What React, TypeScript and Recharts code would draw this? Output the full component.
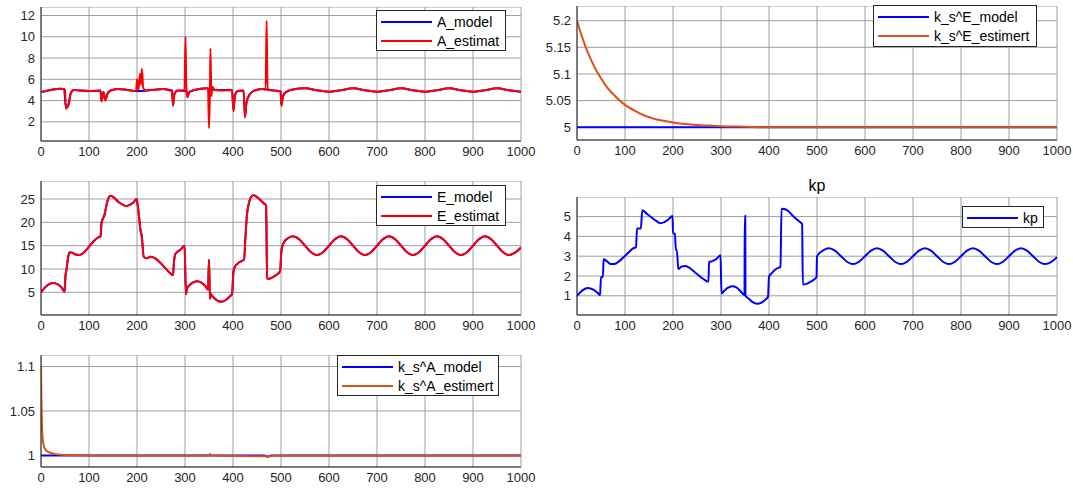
import React from 'react';
import { LineChart, Line, XAxis, YAxis, CartesianGrid, Legend } from 'recharts';

type Pt = [number, number];

const timeTicks = [0, 100, 200, 300, 400, 500, 600, 700, 800, 900, 1000];

// A_model / A_estimat
const aModel: Pt[] = [
  [0, 4.8], [10, 4.9], [25, 5.05], [40, 5.12], [48, 5.1], [52, 3.3], [57, 3.6], [62, 4.7], [68, 5.0],
  [80, 4.95], [100, 4.9], [124, 4.95], [126, 4.0], [130, 4.8], [134, 4.1], [138, 4.6], [145, 4.95],
  [160, 5.1], [180, 5.0], [200, 4.9], [220, 4.95], [255, 5.1], [273, 4.95], [275, 3.6], [278, 4.6],
  [285, 4.95], [303, 4.9], [305, 4.4], [309, 4.8], [320, 5.0], [345, 5.15], [362, 5.0], [398, 5.0],
  [401, 3.1], [404, 4.5], [410, 4.9], [422, 4.95], [425, 2.5], [428, 3.8], [435, 4.6], [445, 4.95],
  [460, 5.1], [485, 4.95], [499, 4.9], [501, 3.6], [504, 4.4], [510, 4.8], [525, 5.05],
  [550, 5.15], [575, 4.98], [600, 4.82], [625, 4.98], [650, 5.15], [675, 4.98], [700, 4.82],
  [725, 4.98], [750, 5.15], [775, 4.98], [800, 4.82], [825, 4.98], [850, 5.15], [875, 4.98],
  [900, 4.82], [925, 4.98], [950, 5.15], [975, 4.98], [1000, 4.82],
];
const aEstimat: Pt[] = [
  [0, 4.8], [10, 4.9], [25, 5.05], [40, 5.12], [48, 5.1], [50, 5.0], [52, 3.2], [55, 3.6], [57, 3.5],
  [62, 4.7], [68, 5.0], [80, 4.95], [100, 4.9], [120, 4.92], [124, 4.95], [126, 3.9], [130, 4.8],
  [134, 4.0], [138, 4.6], [145, 4.95], [160, 5.1], [180, 5.0], [198, 4.9], [200, 6.0], [203, 5.0],
  [206, 6.5], [208, 5.5], [210, 7.0], [213, 5.2], [218, 4.95], [235, 5.0], [255, 5.1], [270, 4.95],
  [273, 4.95], [275, 3.5], [278, 4.6], [285, 4.95], [299, 4.95], [301, 10.0], [303, 4.9], [305, 4.3],
  [309, 4.8], [320, 5.0], [345, 5.15], [348, 5.1], [350, 1.4], [352, 5.0], [353, 8.9], [355, 4.4],
  [357, 5.3], [362, 5.0], [380, 4.95], [398, 5.0], [401, 3.0], [404, 4.5], [410, 4.9], [422, 4.95],
  [425, 2.4], [428, 3.8], [435, 4.6], [445, 4.95], [460, 5.1], [468, 5.05], [470, 11.5], [472, 5.0],
  [485, 4.95], [499, 4.9], [501, 3.5], [504, 4.4], [510, 4.8], [525, 5.05],
  [550, 5.15], [575, 4.98], [600, 4.82], [625, 4.98], [650, 5.15], [675, 4.98], [700, 4.82],
  [725, 4.98], [750, 5.15], [775, 4.98], [800, 4.82], [825, 4.98], [850, 5.15], [875, 4.98],
  [900, 4.82], [925, 4.98], [950, 5.15], [975, 4.98], [1000, 4.82],
];

// k_s^E
const ksEModel: Pt[] = [[0, 5], [1000, 5]];
const ksEEstimert: Pt[] = [
  [0, 5.2], [10, 5.171], [20, 5.146], [30, 5.125], [40, 5.107], [50, 5.092], [60, 5.078], [70, 5.067],
  [80, 5.058], [90, 5.049], [100, 5.042], [120, 5.031], [140, 5.022], [160, 5.016], [180, 5.012],
  [200, 5.009], [225, 5.006], [250, 5.004], [275, 5.003], [300, 5.002], [350, 5.001], [400, 5.0],
  [1000, 5.0],
];

// E_model / E_estimat
const eEstimat: Pt[] = [
  [0, 5.0], [8, 6.0], [16, 6.7], [25, 7.0], [35, 6.7], [43, 6.0], [49, 5.1], [51, 8.5], [53, 9.8],
  [57, 12.8], [60, 13.6], [65, 13.5], [72, 13.1], [80, 13.0], [90, 13.6], [100, 14.8], [110, 16.0],
  [118, 16.7], [124, 17.0], [126, 19.8], [129, 20.8], [132, 21.5], [137, 24.0], [141, 25.3],
  [145, 25.7], [152, 25.3], [162, 24.3], [172, 23.7], [178, 23.5], [186, 23.8], [193, 24.3],
  [199, 25.0], [201, 24.0], [204, 21.5], [207, 18.5], [210, 17.0], [214, 12.6], [220, 12.3],
  [228, 12.6], [238, 12.3], [248, 11.4], [258, 10.3], [268, 9.2], [275, 8.7], [277, 11.5],
  [280, 13.2], [286, 13.8], [292, 14.3], [299, 15.0], [302, 4.6], [304, 5.8], [310, 6.6],
  [318, 7.2], [326, 7.4], [334, 7.1], [342, 6.4], [348, 5.6], [350, 12.0], [352, 3.6], [354, 4.6],
  [356, 4.3], [362, 3.7], [370, 3.1], [376, 3.0], [384, 3.3], [392, 4.0], [398, 4.7], [401, 9.5],
  [404, 10.5], [410, 11.2], [418, 11.7], [423, 12.0], [426, 17.0], [429, 21.5], [433, 24.0],
  [438, 25.5], [443, 25.8], [450, 25.4], [458, 24.7], [465, 24.0], [469, 23.6], [471, 8.0],
  [475, 7.9], [482, 8.2], [490, 8.7], [498, 9.5], [501, 14.0], [505, 15.5], [513, 16.5],
  [525, 17.0], [537.5, 16.4], [550, 15.0], [562.5, 13.6], [575, 13.0], [587.5, 13.6], [600, 15.0],
  [612.5, 16.4], [625, 17.0], [637.5, 16.4], [650, 15.0], [662.5, 13.6], [675, 13.0], [687.5, 13.6],
  [700, 15.0], [712.5, 16.4], [725, 17.0], [737.5, 16.4], [750, 15.0], [762.5, 13.6], [775, 13.0],
  [787.5, 13.6], [800, 15.0], [812.5, 16.4], [825, 17.0], [837.5, 16.4], [850, 15.0], [862.5, 13.6],
  [875, 13.0], [887.5, 13.6], [900, 15.0], [912.5, 16.4], [925, 17.0], [937.5, 16.4], [950, 15.0],
  [962.5, 13.6], [975, 13.0], [987.5, 13.5], [1000, 14.6],
];
const eModel: Pt[] = eEstimat;

// kp
const kp: Pt[] = [
  [0, 1.0], [10, 1.25], [22, 1.4], [35, 1.3], [44, 1.12], [48, 1.03], [50, 1.95], [54, 1.95],
  [55.5, 2.85], [62, 2.75], [71, 2.6], [78, 2.6], [88, 2.75], [98, 2.97], [108, 3.2], [116, 3.38],
  [123, 3.45], [125, 4.4], [133, 4.4], [136, 5.32], [145, 5.15], [154, 4.98], [164, 4.8],
  [174, 4.67], [182, 4.72], [190, 4.85], [199, 5.03], [200, 4.15], [204, 4.15], [206, 3.3],
  [208, 3.3], [211, 2.35], [218, 2.48], [226, 2.5], [236, 2.38], [246, 2.18], [256, 1.98],
  [266, 1.8], [272, 1.72], [274, 1.72], [275, 2.7], [282, 2.75], [290, 2.85], [299, 3.05],
  [301, 1.12], [308, 1.28], [316, 1.42], [324, 1.48], [332, 1.42], [340, 1.25], [349, 1.03],
  [349.5, 5.03], [350.5, 5.03], [351, 1.0], [358, 0.85], [366, 0.68], [375, 0.6], [384, 0.65],
  [392, 0.8], [398, 0.95], [400, 1.96], [406, 2.15], [412, 2.3], [420, 2.42], [424, 2.46],
  [426, 5.4], [432, 5.38], [440, 5.28], [448, 5.08], [456, 4.9], [463, 4.75], [469, 4.62],
  [470.5, 1.57], [478, 1.6], [486, 1.7], [494, 1.82], [499, 1.96], [500, 2.97], [505, 3.15],
  [513, 3.3], [525, 3.4], [537.5, 3.28], [550, 3.0], [562.5, 2.72], [575, 2.6], [587.5, 2.72],
  [600, 3.0], [612.5, 3.28], [625, 3.4], [637.5, 3.28], [650, 3.0], [662.5, 2.72], [675, 2.6],
  [687.5, 2.72], [700, 3.0], [712.5, 3.28], [725, 3.4], [737.5, 3.28], [750, 3.0], [762.5, 2.72],
  [775, 2.6], [787.5, 2.72], [800, 3.0], [812.5, 3.28], [825, 3.4], [837.5, 3.28], [850, 3.0],
  [862.5, 2.72], [875, 2.6], [887.5, 2.72], [900, 3.0], [912.5, 3.28], [925, 3.4], [937.5, 3.28],
  [950, 3.0], [962.5, 2.72], [975, 2.6], [987.5, 2.7], [1000, 2.95],
];

// k_s^A
const ksAModel: Pt[] = [[0, 1], [465, 1], [472, 0.9985], [480, 1], [1000, 1]];
const ksAEstimert: Pt[] = [
  [0, 1.1], [1, 1.06], [2, 1.035], [3, 1.022], [5, 1.013], [8, 1.008], [12, 1.005], [20, 1.003],
  [30, 1.0015], [50, 1.0005], [100, 1.0], [300, 1.0], [305, 0.9995], [310, 1.0], [350, 1.0],
  [352, 1.0015], [355, 1.0], [470, 0.999], [480, 0.999], [490, 1.0], [1000, 1.0],
];

const BLUE = '#0000ff';
const RED = '#ff0000';
const ORANGE = '#d95319';
const FRAME = '#262626';
const FONT = '"Liberation Sans", Arial, Helvetica, sans-serif';
const Y_W = 45;
const X_H = 24;
const R_PAD = 16;

type Series = { name: string; color: string; points: Pt[] };
type Box = { left: number; top: number; width: number; height: number };

const toRows = (pts: Pt[]) => pts.map(([t, v]) => ({ t, v }));

const MatlabLegend = ({ series, box }: { series: Series[]; box: Box }) => (
  <div
    style={{
      width: box.width,
      height: box.height,
      boxSizing: 'border-box',
      border: `1px solid ${FRAME}`,
      background: '#fff',
      paddingTop: 1,
      fontFamily: FONT,
      fontSize: 14,
      color: '#000',
    }}
  >
    {series.map((s) => (
      <div key={s.name} style={{ display: 'flex', alignItems: 'center', height: 19 }}>
        <svg width={56} height={4} style={{ marginLeft: 4 }}>
          <line x1={0} y1={2} x2={51} y2={2} stroke={s.color} strokeWidth={2} />
        </svg>
        <span>{s.name}</span>
      </div>
    ))}
  </div>
);

type PanelProps = {
  left: number;
  top: number;
  width: number;
  height: number;
  yDomain: [number, number];
  yTicks: number[];
  series: Series[];
  legend: Box;
};

const tickStyle = { fill: FRAME, fontSize: 13, fontFamily: FONT };

const Panel = ({ left, top, width, height, yDomain, yTicks, series, legend }: PanelProps) => (
  <div style={{ position: 'absolute', left: left - Y_W, top }}>
    <LineChart
      width={width + Y_W + R_PAD}
      height={height + X_H}
      margin={{ top: 0, right: R_PAD, bottom: 0, left: 0 }}
    >
      <CartesianGrid stroke="#9e9e9e" />
      <XAxis
        dataKey="t"
        type="number"
        domain={[0, 1000]}
        ticks={timeTicks}
        interval={0}
        allowDataOverflow
        height={X_H}
        tickLine={false}
        axisLine={{ stroke: FRAME }}
        tickSize={4}
        tickMargin={2}
        tick={tickStyle}
      />
      <XAxis
        xAxisId="top"
        orientation="top"
        type="number"
        domain={[0, 1000]}
        ticks={timeTicks}
        height={0}
        tick={false}
        tickLine={false}
        axisLine={{ stroke: FRAME }}
      />
      <YAxis
        type="number"
        domain={yDomain}
        ticks={yTicks}
        interval={0}
        allowDataOverflow
        width={Y_W}
        tickLine={false}
        axisLine={{ stroke: FRAME }}
        tickSize={4}
        tickMargin={2}
        tick={tickStyle}
      />
      <YAxis
        yAxisId="right"
        orientation="right"
        type="number"
        domain={yDomain}
        ticks={yTicks}
        width={0}
        tick={false}
        tickLine={false}
        axisLine={{ stroke: FRAME }}
      />
      {series.map((s) => (
        <Line
          key={s.name}
          data={toRows(s.points)}
          dataKey="v"
          name={s.name}
          type="monotone"
          stroke={s.color}
          strokeWidth={2}
          dot={false}
          isAnimationActive={false}
        />
      ))}
      <Legend
        layout="vertical"
        align="center"
        verticalAlign="middle"
        wrapperStyle={{ left: legend.left - (left - Y_W), top: legend.top - top, width: legend.width }}
        content={() => <MatlabLegend series={series} box={legend} />}
      />
    </LineChart>
  </div>
);

export default function App() {
  return (
    <div
      style={{
        position: 'absolute',
        left: 0,
        top: 0,
        width: 1073,
        height: 488,
        background: '#fff',
        overflow: 'hidden',
        fontFamily: FONT,
      }}
    >
      <Panel
        left={41}
        top={7}
        width={480}
        height={134}
        yDomain={[0.2, 12.8]}
        yTicks={[2, 4, 6, 8, 10, 12]}
        series={[
          { name: 'A_model', color: BLUE, points: aModel },
          { name: 'A_estimat', color: RED, points: aEstimat },
        ]}
        legend={{ left: 376, top: 10, width: 130, height: 41 }}
      />
      <Panel
        left={577}
        top={6}
        width={480}
        height={134}
        yDomain={[4.976, 5.2276]}
        yTicks={[5, 5.05, 5.1, 5.15, 5.2]}
        series={[
          { name: 'k_s^E_model', color: BLUE, points: ksEModel },
          { name: 'k_s^E_estimert', color: ORANGE, points: ksEEstimert },
        ]}
        legend={{ left: 873, top: 5, width: 164, height: 42 }}
      />
      <Panel
        left={41}
        top={181}
        width={480}
        height={134}
        yDomain={[0.14, 28.86]}
        yTicks={[5, 10, 15, 20, 25]}
        series={[
          { name: 'E_model', color: BLUE, points: eModel },
          { name: 'E_estimat', color: RED, points: eEstimat },
        ]}
        legend={{ left: 376, top: 185, width: 130, height: 41 }}
      />
      <div
        style={{
          position: 'absolute',
          left: 577,
          width: 480,
          top: 176,
          textAlign: 'center',
          fontSize: 16,
          color: '#000',
          lineHeight: '20px',
        }}
      >
        kp
      </div>
      <Panel
        left={577}
        top={197}
        width={480}
        height={118}
        yDomain={[0.03, 5.99]}
        yTicks={[1, 2, 3, 4, 5]}
        series={[{ name: 'kp', color: BLUE, points: kp }]}
        legend={{ left: 962, top: 206, width: 82, height: 22 }}
      />
      <Panel
        left={41}
        top={355}
        width={480}
        height={112}
        yDomain={[0.987, 1.113]}
        yTicks={[1, 1.05, 1.1]}
        series={[
          { name: 'k_s^A_model', color: BLUE, points: ksAModel },
          { name: 'k_s^A_estimert', color: ORANGE, points: ksAEstimert },
        ]}
        legend={{ left: 337, top: 355, width: 162, height: 41 }}
      />
    </div>
  );
}
